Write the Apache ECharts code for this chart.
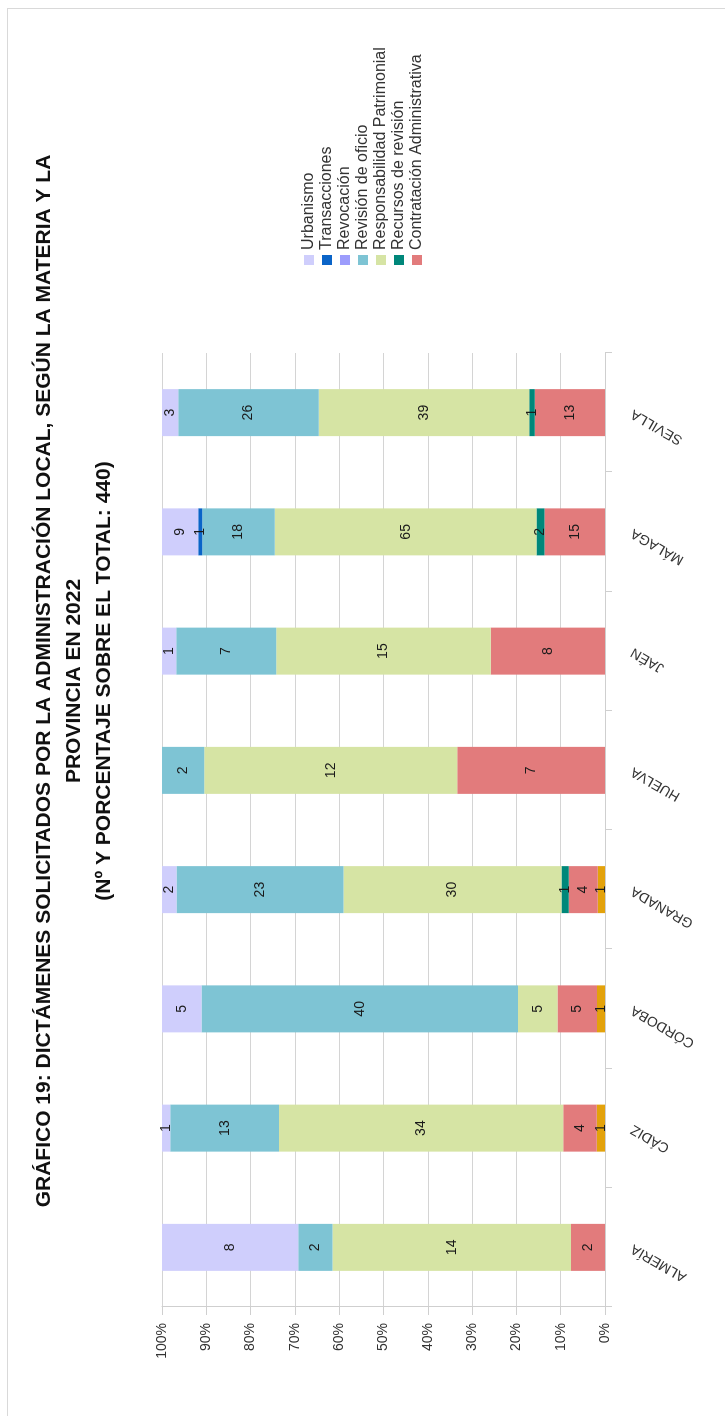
<!DOCTYPE html>
<html>
<head>
<meta charset="utf-8">
<script src="https://cdn.jsdelivr.net/npm/echarts@6/dist/echarts.min.js"></script>
<style>
  html, body { margin: 0; padding: 0; background: #fff; overflow: hidden; }
  #frame { position: absolute; left: 7px; top: 8px; width: 740px; height: 1430px; border: 1px solid #d9d9d9; }
  /* the chart is laid out landscape, then turned a quarter left like the scanned page */
  #chart { position: absolute; left: 0; top: 0; width: 1416px; height: 725px;
           transform-origin: 0 0; transform: translateY(1416px) rotate(-90deg); }
</style>
</head>
<body>
<div id="frame"></div>
<div id="chart"></div>
<script>
const provincias = ['ALMERÍA', 'CÁDIZ', 'CÓRDOBA', 'GRANADA', 'HUELVA', 'JAÉN', 'MÁLAGA', 'SEVILLA'];

// counts per province, stacked bottom -> top
const otros = [0, 1, 1, 1, 0, 0, 0, 0];
const contratacion = [2, 4, 5, 4, 7, 8, 15, 13];
const recursos = [0, 0, 0, 1, 0, 0, 2, 1];
const responsabilidad = [14, 34, 5, 30, 12, 15, 65, 39];
const revisionOficio = [2, 13, 40, 23, 2, 7, 18, 26];
const revocacion = [0, 0, 0, 0, 0, 0, 0, 0];
const transacciones = [0, 0, 0, 0, 0, 0, 1, 0];
const urbanismo = [8, 1, 5, 2, 0, 1, 9, 3];

const pctTicks = [0, 10, 20, 30, 40, 50, 60, 70, 80, 90, 100];
const legendOrder = ['Urbanismo', 'Transacciones', 'Revocación', 'Revisión de oficio',
  'Responsabilidad Patrimonial', 'Recursos de revisión', 'Contratación Administrativa'];

const FONT = 'Liberation Sans';

const stackDef = [
  { name: 'Otros', data: otros, color: '#E3A20B' },
  { name: 'Contratación Administrativa', data: contratacion, color: '#E27B7C' },
  { name: 'Recursos de revisión', data: recursos, color: '#00877A' },
  { name: 'Responsabilidad Patrimonial', data: responsabilidad, color: '#D6E4A4' },
  { name: 'Revisión de oficio', data: revisionOficio, color: '#7EC4D4' },
  { name: 'Revocación', data: revocacion, color: '#9C9CFC' },
  { name: 'Transacciones', data: transacciones, color: '#0A64C8' },
  { name: 'Urbanismo', data: urbanismo, color: '#CFCEFC' }
];

const totals = provincias.map((p, i) => stackDef.reduce((s, d) => s + d.data[i], 0));

const series = stackDef.map(d => ({
  name: d.name,
  type: 'bar',
  stack: 'total',
  barWidth: 47,
  itemStyle: { color: d.color },
  label: {
    show: true,
    position: 'inside',
    color: '#1a1a1a',
    fontFamily: FONT,
    fontSize: 14,
    formatter: p => (d.data[p.dataIndex] > 0 ? String(d.data[p.dataIndex]) : '')
  },
  data: d.data.map((v, i) => v / totals[i] * 100)
}));

const chart = echarts.init(document.getElementById('chart'));
chart.setOption({
  animation: false,
  backgroundColor: 'transparent',
  textStyle: { fontFamily: FONT },
  title: {
    text: 'GRÁFICO 19: DICTÁMENES SOLICITADOS POR LA ADMINISTRACIÓN LOCAL, SEGÚN LA MATERIA Y LA\nPROVINCIA EN 2022\n(Nº Y PORCENTAJE SOBRE EL TOTAL: 440)',
    left: 730,
    top: 24,
    textAlign: 'center',
    textStyle: { fontFamily: FONT, fontSize: 21, fontWeight: 'bold', color: '#111', lineHeight: 30, align: 'center' }
  },
  legend: {
    orient: 'vertical',
    left: 1146,
    top: 296,
    itemWidth: 10,
    itemHeight: 10,
    itemGap: 2,
    icon: 'rect',
    data: legendOrder,
    textStyle: { fontFamily: FONT, fontSize: 16, color: '#333' }
  },
  grid: { left: 109, right: 353, top: 162, bottom: 120 },
  xAxis: {
    type: 'category',
    data: provincias,
    axisLine: { lineStyle: { color: '#cfcfcf' } },
    axisTick: { show: true, length: 7, lineStyle: { color: '#cfcfcf' } },
    axisLabel: { interval: 0, rotate: 60, margin: 27, fontSize: 14, color: '#333', fontFamily: FONT }
  },
  yAxis: {
    type: 'value',
    min: 0,
    max: 100,
    interval: 10,
    axisLine: { show: true, lineStyle: { color: '#cfcfcf' } },
    axisTick: { show: true, length: 8, lineStyle: { color: '#cfcfcf' } },
    splitLine: { show: true, lineStyle: { color: '#d4d4d4', width: 1 } },
    axisLabel: {
      margin: 16, fontSize: 14, color: '#333', fontFamily: FONT,
      formatter: v => (pctTicks.includes(v) ? v + '%' : '')
    }
  },
  series: series
});
</script>
</body>
</html>
